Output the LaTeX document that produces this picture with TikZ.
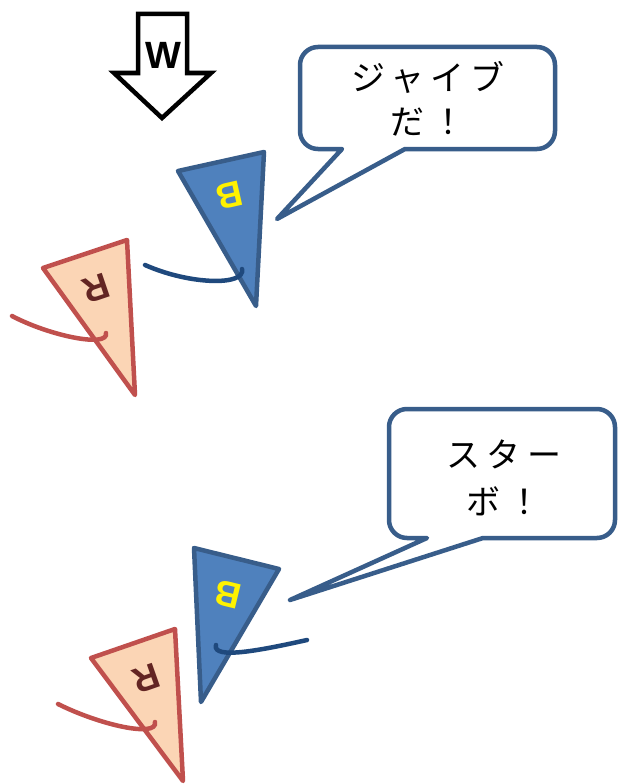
\documentclass[tikz,border=0pt]{standalone}
\usepackage{fontspec}
\setmainfont{Liberation Sans}
\newfontfamily\jpfont[LetterSpace=18]{Noto Sans CJK JP}
\definecolor{triblue}{HTML}{4F81BD}
\definecolor{edgeblue}{HTML}{385D8A}
\definecolor{cordblue}{HTML}{1F497D}
\definecolor{edgered}{HTML}{C0504D}
\definecolor{peach}{HTML}{FBD5B5}
\definecolor{rtext}{HTML}{632523}
\tikzset{
  bluetri/.style={fill=triblue, draw=edgeblue, line width=4.5pt, line join=round},
  redtri/.style={fill=peach, draw=edgered, line width=4.5pt, line join=round},
  bluecord/.style={draw=cordblue, line width=4.5pt, line cap=round},
  redcord/.style={draw=edgered, line width=4.5pt, line cap=round},
  bubble/.style={draw=edgeblue, fill=white, line width=4.5pt, line join=round},
  windarrow/.style={draw=black, fill=white, line width=4.5pt, line join=miter},
  letterB/.style={text=yellow, inner sep=0pt, font=\bfseries\fontsize{36}{36}\selectfont},
  letterR/.style={text=rtext, inner sep=0pt, font=\bfseries\fontsize{36}{36}\selectfont},
  speech/.style={align=center, inner sep=0pt, text=black},
}
\begin{document}
\begin{tikzpicture}[x=1pt, y=-1pt]
\useasboundingbox (0,0) rectangle (619,784);

% wind arrow
\draw[windarrow] (138,14) -- (187,14) -- (187,73) -- (211,73) -- (162,118)
  -- (114,73) -- (138,73) -- cycle;
\node[font=\bfseries\fontsize{38}{38}\selectfont, inner sep=0pt] (w) at (163,55) {W};

% upper pair
\draw[bluetri] (178,171) -- (264,152) -- (256,306) -- cycle;
\node[letterB, rotate=192.8] (b1) at (230,195) {B};
\draw[bluecord] (145,265) .. controls (190,285) and (246,286) .. (242,269);

\draw[redtri] (43,268) -- (127,240) -- (135,395) -- cycle;
\node[letterR, rotate=198.8] (r1) at (96,288) {R};
\draw[redcord] (12,316) .. controls (50,336) and (109,348) .. (106,333);

% upper speech bubble
\draw[bubble] (480,149) [rounded corners=18] -- (555,149) -- (555,47) -- (300,47)
  -- (300,149) [sharp corners] -- (342,149) -- (277,219) -- (405,149) -- cycle;
\node[speech, font=\jpfont\fontsize{34}{44}\selectfont] (t1) at (428,99) {ジャイブ\\だ！};

% lower pair
\draw[bluetri] (194,548) -- (279,569) -- (201,702) -- cycle;
\node[letterB, rotate=166.4] (b2) at (228,594) {B};
\draw[bluecord] (307,640) .. controls (262,650) and (212,660) .. (216,645);

\draw[redtri] (91,658) -- (175,629) -- (183,781) -- cycle;
\node[letterR, rotate=199.4] (r2) at (146,678) {R};
\draw[redcord] (58,704) .. controls (100,725) and (158,738) .. (155,722);

% lower speech bubble
\draw[bubble] (540,538) [rounded corners=18] -- (615,538) -- (615,409) -- (389,409)
  -- (389,538) [sharp corners] -- (427,538) -- (290,600) -- (483,538) -- cycle;
\node[speech, font=\jpfont\fontsize{34}{47}\selectfont] (t2) at (504,478) {スター\\ボ！};
\end{tikzpicture}
\end{document}
